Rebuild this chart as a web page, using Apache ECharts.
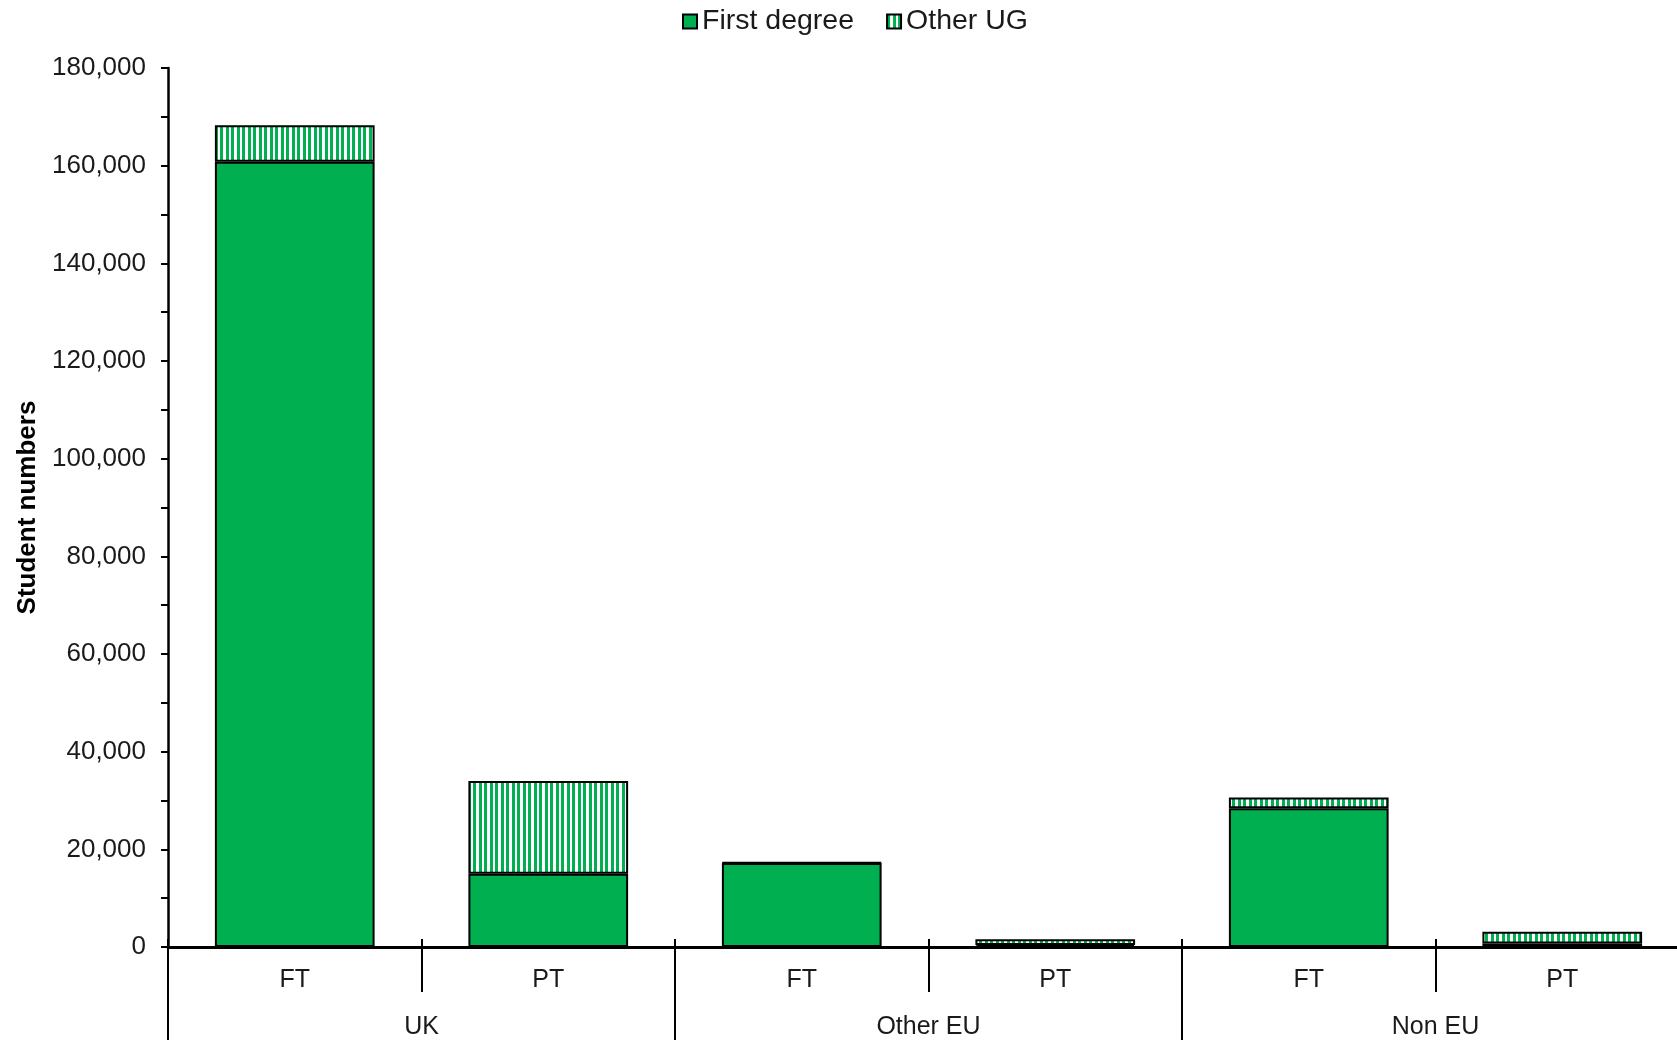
<!DOCTYPE html>
<html>
<head>
<meta charset="utf-8">
<script src="https://cdn.jsdelivr.net/npm/echarts@6/dist/echarts.min.js"></script>
<style>html,body{margin:0;padding:0;background:#fff;overflow:hidden;width:1677px;height:1040px}#c{width:1689px;height:1040px}</style>
</head>
<body>
<div id="c"></div>
<script>
const groups = ['UK', 'Other EU', 'Non EU'];
const modes = ['FT', 'PT', 'FT', 'PT', 'FT', 'PT'];
const firstDegree = [160800, 15000, 17200, 400, 28400, 700];
const otherUG = [7500, 19000, 150, 1200, 2200, 2400];
const yTicks = [0, 20000, 40000, 60000, 80000, 100000, 120000, 140000, 160000, 180000];

const GREEN = '#00B050';
const pc = document.createElement('canvas');
pc.width = 11; pc.height = 11;
const g = pc.getContext('2d');
g.fillStyle = '#ffffff'; g.fillRect(0, 0, 11, 11);
g.fillStyle = GREEN; g.fillRect(0, 0, 3, 11); g.fillRect(6, 0, 3, 11);

const fmt = v => String(v).replace(/\B(?=(\d{3})+(?!\d))/g, ',');
const font = 'Liberation Sans, Arial, sans-serif';

const chart = echarts.init(document.getElementById('c'), null, {renderer: 'canvas'});
chart.setOption({
  animation: false,
  backgroundColor: '#ffffff',
  textStyle: {fontFamily: font, color: '#000'},
  legend: {
    left: 677, top: 2, itemWidth: 14, itemHeight: 14, itemGap: 32,
    icon: 'rect',
    textStyle: {fontSize: 28.5, color: '#1a1a1a', fontFamily: font},
    data: ['First degree', 'Other UG']
  },
  grid: {left: 168, top: 68, right: 0, bottom: 93, containLabel: false},
  xAxis: [
    {
      type: 'category', data: modes, position: 'bottom',
      axisLine: {show: true, lineStyle: {color: '#000', width: 3}},
      axisTick: {show: true, interval: 0, length: 45, lineStyle: {color: '#000', width: 2}},
      axisLabel: {interval: 0, fontSize: 25, color: '#1a1a1a', margin: 21, fontFamily: font}
    },
    {
      type: 'category', data: modes, position: 'bottom',
      axisLine: {show: false},
      axisTick: {show: true, inside: true, interval: 0, length: 8, lineStyle: {color: '#000', width: 2}},
      axisLabel: {show: false}
    },
    {
      type: 'category', data: groups, position: 'bottom',
      axisLine: {show: false},
      axisTick: {show: true, interval: 0, length: 100, lineStyle: {color: '#000', width: 2}},
      axisLabel: {interval: 0, fontSize: 25, color: '#1a1a1a', margin: 68, fontFamily: font}
    }
  ],
  yAxis: {
    type: 'value', min: yTicks[0], max: yTicks[yTicks.length - 1], interval: 20000,
    name: 'Student numbers', nameLocation: 'middle', nameGap: 124,
    nameTextStyle: {fontSize: 26, fontWeight: 'bold', color: '#000', fontFamily: font},
    axisLine: {show: true, lineStyle: {color: '#000', width: 2.5}},
    axisTick: {show: true, length: 7, lineStyle: {color: '#000', width: 2}},
    minorTick: {show: true, splitNumber: 2, length: 7, lineStyle: {color: '#000', width: 2}},
    splitLine: {show: false},
    axisLabel: {fontSize: 26, color: '#1a1a1a', margin: 22, formatter: fmt, fontFamily: font}
  },
  series: [
    {
      name: 'First degree', type: 'bar', stack: 'a', xAxisIndex: 0, data: firstDegree,
      barWidth: '63%',
      itemStyle: {color: GREEN, borderColor: '#000', borderWidth: 2}
    },
    {
      name: 'Other UG', type: 'bar', stack: 'a', xAxisIndex: 0, data: otherUG,
      barWidth: '63%',
      itemStyle: {color: {image: pc, repeat: 'repeat'}, borderColor: '#000', borderWidth: 2}
    }
  ]
});
</script>
</body>
</html>
